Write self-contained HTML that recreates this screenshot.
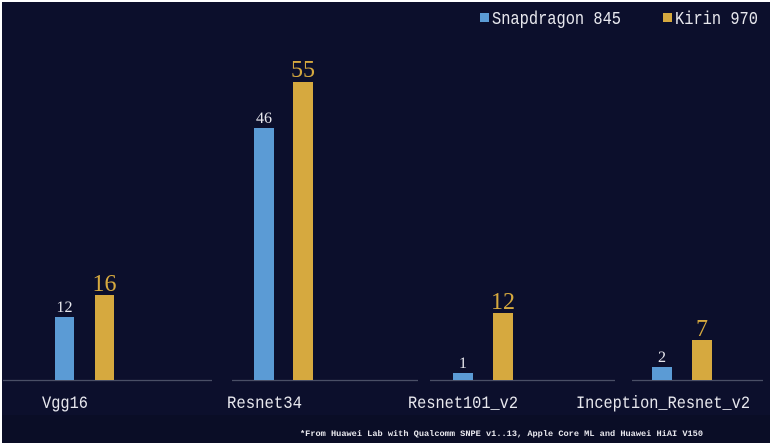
<!DOCTYPE html>
<html><head><style>
html,body{margin:0;padding:0;background:#fff;}
svg{display:block}
</style></head><body>
<svg width="775" height="448" xmlns="http://www.w3.org/2000/svg">
<rect x="0" y="0" width="775" height="448" fill="#fff"/>
<rect x="2" y="2" width="768" height="441" fill="#0c0f2c"/>
<rect x="2" y="415" width="768" height="28" fill="#0a0d26"/>
<g stroke="#4a4f66" stroke-width="1.2">
<line x1="3" y1="380.5" x2="212" y2="380.5"/>
<line x1="232" y1="380.5" x2="418" y2="380.5"/>
<line x1="430" y1="380.5" x2="615" y2="380.5"/>
<line x1="632" y1="380.5" x2="763" y2="380.5"/>
</g>
<g fill="#5b9bd5">
<rect x="55" y="317" width="19" height="63"/>
<rect x="254" y="128" width="20" height="252"/>
<rect x="453" y="373" width="20" height="7"/>
<rect x="652" y="367" width="20" height="13"/>
</g>
<g fill="#d6a93f">
<rect x="95" y="295" width="19" height="85"/>
<rect x="293" y="82" width="20" height="298"/>
<rect x="493" y="313" width="20" height="67"/>
<rect x="692" y="340" width="20" height="40"/>
</g>
<g font-family="Liberation Serif, serif" text-anchor="middle">
<g fill="#e8e8ee" font-size="16">
<text x="64.5" y="312">12</text>
<text x="264" y="123">46</text>
<text x="463" y="368">1</text>
<text x="662" y="362">2</text>
</g>
<g fill="#d6a93f" font-size="24">
<text x="104.5" y="291">16</text>
<text x="303" y="77">55</text>
<text x="503" y="309">12</text>
<text x="702" y="336">7</text>
</g>
</g>
<g font-family="Liberation Mono, monospace" fill="#e8e8ee" font-size="17.5">
<text x="42" y="408" textLength="46" lengthAdjust="spacingAndGlyphs">Vgg16</text>
<text x="227" y="408" textLength="75" lengthAdjust="spacingAndGlyphs">Resnet34</text>
<text x="408" y="408" textLength="110" lengthAdjust="spacingAndGlyphs">Resnet101_v2</text>
<text x="576" y="408" textLength="174" lengthAdjust="spacingAndGlyphs">Inception_Resnet_v2</text>
</g>
<rect x="480" y="13" width="9" height="9" fill="#5b9bd5"/>
<rect x="663" y="13" width="9" height="9" fill="#d6a93f"/>
<g font-family="Liberation Mono, monospace" fill="#e8e8ee" font-size="18">
<text x="492" y="24" textLength="129" lengthAdjust="spacingAndGlyphs">Snapdragon 845</text>
<text x="675" y="24" textLength="83" lengthAdjust="spacingAndGlyphs">Kirin 970</text>
</g>
<text x="300" y="436" font-family="Liberation Mono, monospace" font-weight="bold" fill="#e8e8ee" font-size="8.3" textLength="403" lengthAdjust="spacingAndGlyphs">*From Huawei Lab with Qualcomm SNPE v1..13, Apple Core ML and Huawei HiAI V150</text>
</svg>
</body></html>
